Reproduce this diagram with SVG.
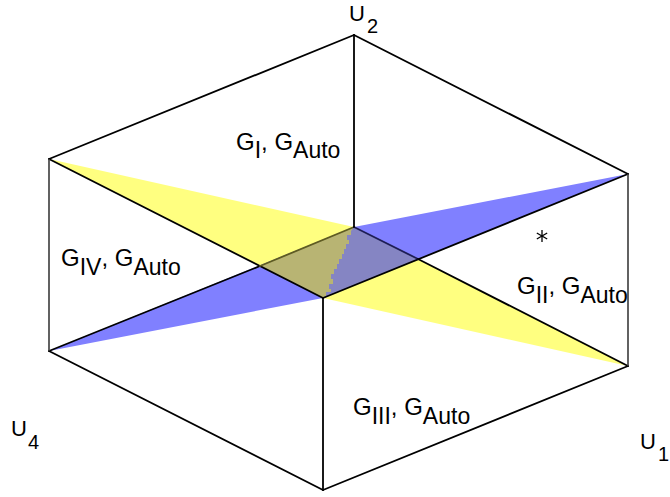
<svg xmlns="http://www.w3.org/2000/svg" width="670" height="497" viewBox="0 0 670 497">
  <style>
    .edge { stroke: #000; stroke-width: 1.8; fill: none; stroke-linecap: round; }
    .side { stroke: #3a3a3a; stroke-width: 1.6; fill: none; }
    .lbl { font-family: "Liberation Sans", Arial, Helvetica, sans-serif; font-size: 24px; fill: #000; }
    .sub { font-size: 23px; }
    .ulbl { font-family: "Liberation Sans", Arial, Helvetica, sans-serif; font-size: 22px; fill: #000; }
    .usub { font-size: 20px; }
  </style>
  <rect width="670" height="497" fill="#fff"/>
  <g id="planes">
    <polygon id="plane-yellow" points="49,159 323,298 628,366 354,227" fill="#FFFF80"/>
    <polygon id="plane-blue" points="49,351 354,227 628,174 323,298" fill="#8080FF"/>
    <polygon id="overlap-blue" points="354,227 418,259 323,298 260,266" fill="#8585C3"/>
    <polygon id="overlap-olive" points="260,266 354,227 351,231 351,235 347,235 347,240 349,240 349,244 346,244 346,249 344,249 344,254 342,254 342,259 339,259 339,264 337,264 337,269 334,269 334,274 331,274 331,279 333,279 333,284 329,284 329,289 331,289 331,292 326,292 326,296 323,298" fill="#B8B473"/>
  </g>
  <g id="connectors">
    <line class="edge" x1="354" y1="35" x2="49" y2="159"/>
    <line class="edge" x1="354" y1="35" x2="628" y2="174"/>
    <line class="edge" x1="49" y1="159" x2="323" y2="298"/>
    <line class="edge" x1="628" y1="174" x2="323" y2="298"/>
    <line class="edge" x1="49" y1="351" x2="323" y2="490"/>
    <line class="edge" x1="628" y1="366" x2="323" y2="490"/>
    <line class="edge" x1="49" y1="351" x2="260" y2="266"/>
    <line class="edge" x1="260" y1="266" x2="354" y2="227" style="stroke:#5E5B22"/>
    <line class="edge" x1="354" y1="227" x2="418" y2="259" style="stroke:#1E1E55"/>
    <line class="edge" x1="418" y1="259" x2="628" y2="366"/>
    <line class="edge" x1="354" y1="35" x2="354" y2="227"/>
    <line class="edge" x1="323" y1="298" x2="323" y2="490"/>
    <line class="side" x1="49" y1="159" x2="49" y2="351"/>
    <line class="side" x1="628" y1="174" x2="628" y2="366"/>
  </g>
  <g id="marker-star" stroke="#000" stroke-width="1.3">
    <line x1="542" y1="230" x2="542" y2="242"/>
    <line x1="536.8" y1="233" x2="547.2" y2="239"/>
    <line x1="536.8" y1="239" x2="547.2" y2="233"/>
  </g>
  <g id="label-U2"><text class="ulbl" x="349" y="21">U<tspan class="usub" dx="2" dy="12">2</tspan></text></g>
  <g id="label-U4"><text class="ulbl" x="11" y="436">U<tspan class="usub" dx="1" dy="13">4</tspan></text></g>
  <g id="label-U1"><text class="ulbl" x="640" y="449">U<tspan class="usub" dx="2" dy="12">1</tspan></text></g>
  <g id="label-GI"><text class="lbl" x="236" y="150">G<tspan class="sub" dy="8">I</tspan><tspan dy="-8">, G</tspan><tspan class="sub" dy="8">Auto</tspan></text></g>
  <g id="label-GIV"><text class="lbl" x="61" y="266">G<tspan class="sub" dy="9">IV</tspan><tspan dy="-9">, G</tspan><tspan class="sub" dy="9">Auto</tspan></text></g>
  <g id="label-GII"><text class="lbl" x="517" y="294">G<tspan class="sub" dy="9">II</tspan><tspan dy="-9">, G</tspan><tspan class="sub" dy="9">Auto</tspan></text></g>
  <g id="label-GIII"><text class="lbl" x="353" y="415">G<tspan class="sub" dy="9">III</tspan><tspan dy="-9">, G</tspan><tspan class="sub" dy="9">Auto</tspan></text></g>
</svg>
